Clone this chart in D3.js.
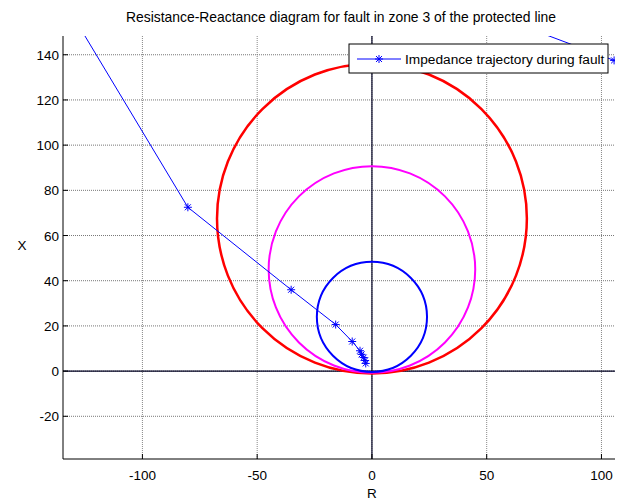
<!DOCTYPE html>
<html>
<head>
<meta charset="utf-8">
<script src="https://cdn.jsdelivr.net/npm/d3@7"></script>
<style>
body { margin: 0; background: #fff; }
text { font-family: "Liberation Sans", Arial, sans-serif; }
</style>
</head>
<body>
<div class="canvas"></div>
<script>
// impedance trajectory (R, X)
var trajR = [105.5, -184, -80.2, -35.2, -15.8, -8.6, -5.2, -4.5, -3.6, -3.0, -2.7];
var trajX = [137.5, 248, 72.5, 36.0, 20.6, 13.1, 9.0, 7.4, 6.0, 4.7, 3.4];

// mho circles: centre on X axis, radius
var zoneName = ['zone 3', 'zone 2', 'zone 1'];
var zoneCentreX = [67.5, 45, 24];
var zoneRadius = [67.5, 45, 24];
var zoneColor = ['#ff0000', '#ff00ff', '#0000ff'];
var zoneWidth = [2.5, 2, 2];

var xTicks = [-100, -50, 0, 50, 100];
var yTicks = [-20, 0, 20, 40, 60, 80, 100, 120, 140];

var width = 623, height = 502;
var pL = 63, pR = 615, pT = 36, pB = 459;

var svg = d3.select('.canvas').append('svg')
	.attr('width', width).attr('height', height);

var x = d3.scaleLinear().domain([-134.6, 105.9]).range([pL, pR]);
var y = d3.scaleLinear().domain([-38.9, 148.3]).range([pB, pT]);

svg.append('defs').append('clipPath').attr('id', 'clip')
	.append('rect')
	.attr('x', pL).attr('y', pT)
	.attr('width', pR - pL).attr('height', pB - pT);

// grid
var grid = svg.append('g');
grid.selectAll('line.gx')
	.data(xTicks)
	.enter().append('line')
	.attr('x1', d => x(d)).attr('x2', d => x(d))
	.attr('y1', pT).attr('y2', pB)
	.attr('stroke', '#888').attr('stroke-width', 1)
	.attr('stroke-dasharray', '1,1');
grid.selectAll('line.gy')
	.data(yTicks)
	.enter().append('line')
	.attr('x1', pL).attr('x2', pR)
	.attr('y1', d => y(d)).attr('y2', d => y(d))
	.attr('stroke', '#777').attr('stroke-width', 1)
	.attr('stroke-dasharray', '1,1');

// R = 0 and X = 0 lines
svg.append('line')
	.attr('x1', pL).attr('x2', pR)
	.attr('y1', y(0)).attr('y2', y(0))
	.attr('stroke', '#000022').attr('stroke-width', 1.2);
svg.append('line')
	.attr('x1', x(0)).attr('x2', x(0))
	.attr('y1', pT).attr('y2', pB)
	.attr('stroke', '#000022').attr('stroke-width', 1.2);

var plot = svg.append('g').attr('clip-path', 'url(#clip)');

// circles
plot.selectAll('circle.zone')
	.data(zoneName)
	.enter().append('circle')
	.attr('cx', x(0))
	.attr('cy', (d, i) => y(zoneCentreX[i]))
	.attr('r', (d, i) => x(zoneRadius[i]) - x(0))
	.attr('fill', 'none')
	.attr('stroke', (d, i) => zoneColor[i])
	.attr('stroke-width', (d, i) => zoneWidth[i]);

// trajectory
var pts = trajR.map((r, i) => [r, trajX[i]]);
var line = d3.line().x(d => x(d[0])).y(d => y(d[1]));
plot.append('path')
	.attr('d', line(pts))
	.attr('fill', 'none')
	.attr('stroke', '#0000ff')
	.attr('stroke-width', 1);

var star = 'M-4,0L4,0M0,-4L0,4M-3,-3L3,3M-3,3L3,-3';
plot.selectAll('path.star')
	.data(pts)
	.enter().append('path')
	.attr('d', star)
	.attr('transform', d => 'translate(' + x(d[0]) + ',' + y(d[1]) + ')')
	.attr('stroke', '#0000ff')
	.attr('stroke-width', 1)
	.attr('fill', 'none');

// axes
var xAxis = svg.append('g');
xAxis.append('line')
	.attr('x1', pL).attr('x2', pR)
	.attr('y1', pB).attr('y2', pB)
	.attr('stroke', '#000').attr('stroke-width', 1);
xAxis.selectAll('line.t')
	.data(xTicks)
	.enter().append('line')
	.attr('x1', d => x(d)).attr('x2', d => x(d))
	.attr('y1', pB).attr('y2', pB - 5)
	.attr('stroke', '#000');
xAxis.selectAll('text')
	.data(xTicks)
	.enter().append('text')
	.attr('x', d => x(d))
	.attr('y', pB + 21)
	.attr('text-anchor', 'middle')
	.attr('font-size', 13.5)
	.text(d => d);

var yAxis = svg.append('g');
yAxis.append('line')
	.attr('x1', pL).attr('x2', pL)
	.attr('y1', pT).attr('y2', pB)
	.attr('stroke', '#000').attr('stroke-width', 1);
yAxis.selectAll('line.t')
	.data(yTicks)
	.enter().append('line')
	.attr('x1', pL).attr('x2', pL + 5)
	.attr('y1', d => y(d)).attr('y2', d => y(d))
	.attr('stroke', '#000');
yAxis.selectAll('text')
	.data(yTicks)
	.enter().append('text')
	.attr('x', pL - 4)
	.attr('y', d => y(d) + 5)
	.attr('text-anchor', 'end')
	.attr('font-size', 13.5)
	.text(d => d);

// labels
svg.append('text')
	.attr('x', x(0)).attr('y', 498)
	.attr('text-anchor', 'middle')
	.attr('font-size', 13.5)
	.text('R');
svg.append('text')
	.attr('x', 22).attr('y', 250)
	.attr('text-anchor', 'middle')
	.attr('font-size', 13.5)
	.text('X');
svg.append('text')
	.attr('x', 341).attr('y', 22)
	.attr('text-anchor', 'middle')
	.attr('font-size', 13.9)
	.text('Resistance-Reactance diagram for fault in zone 3 of the protected line');

// legend
var lg = svg.append('g').attr('transform', 'translate(349,44)');
lg.append('rect')
	.attr('width', 259).attr('height', 29)
	.attr('fill', '#fff').attr('stroke', '#000').attr('stroke-width', 1);
lg.append('line')
	.attr('x1', 8).attr('x2', 52).attr('y1', 15).attr('y2', 15)
	.attr('stroke', '#0000ff');
lg.append('path')
	.attr('d', star)
	.attr('transform', 'translate(30,15)')
	.attr('stroke', '#0000ff').attr('fill', 'none');
lg.append('text')
	.attr('x', 56).attr('y', 20)
	.attr('font-size', 13.7)
	.text('Impedance trajectory during fault');
</script>
</body>
</html>
